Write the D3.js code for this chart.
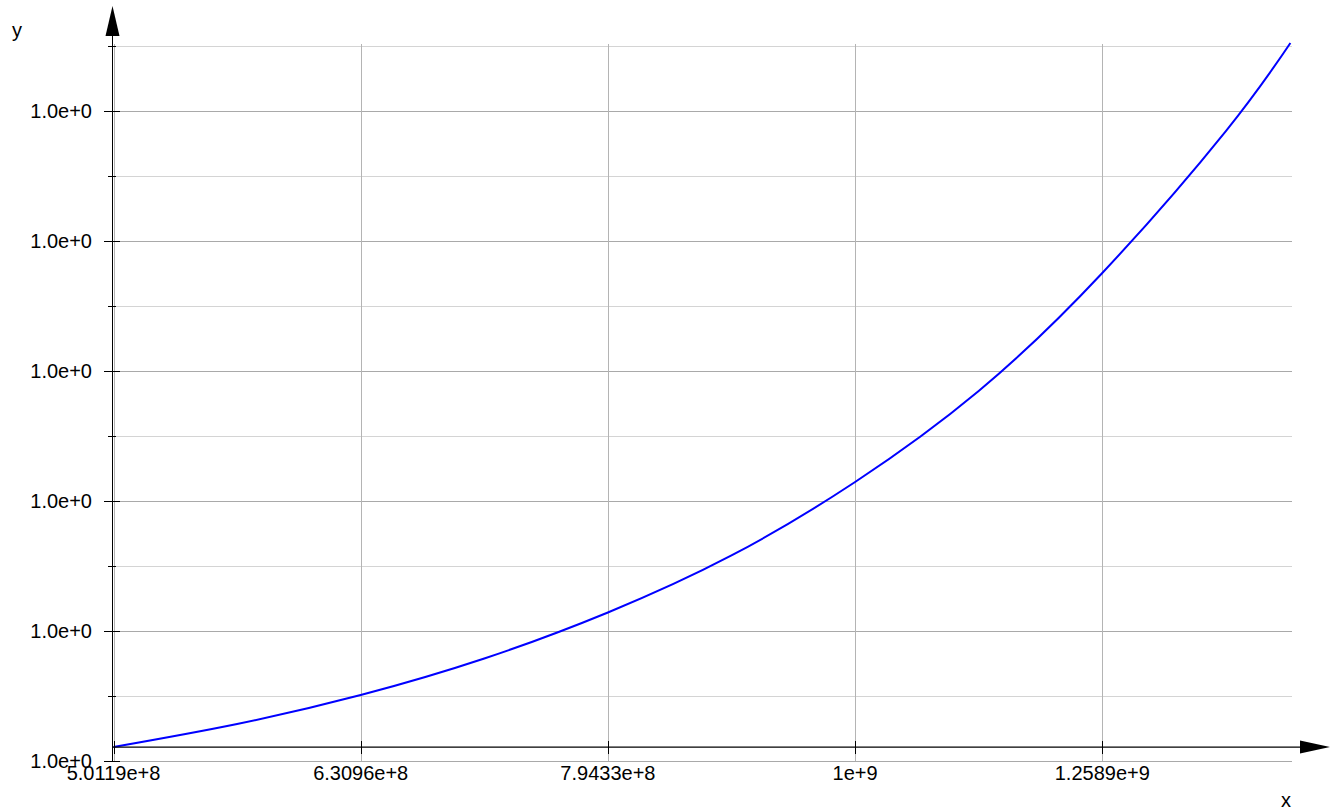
<!DOCTYPE html>
<html>
<head>
<meta charset="utf-8">
<script src="https://cdn.jsdelivr.net/npm/d3@7"></script>
<style>
  html, body { margin: 0; padding: 0; background: #ffffff; }
  svg { display: block; font-family: "Liberation Sans", Arial, sans-serif; }
</style>
</head>
<body>
<svg id="chart" width="1340" height="812"></svg>
<script>
// Sampled curve: x on a logarithmic axis, y just above 1
const xValues = [5.0119e8, 5.6234e8, 6.3096e8, 7.0795e8, 7.9433e8, 8.9125e8, 1.0e9, 1.1220e9, 1.2589e9, 1.4125e9, 1.5e9];
const yValues = [1.00000215, 1.00000569, 1.00001015, 1.00001577, 1.00002285, 1.00003162, 1.00004292, 1.00005692, 1.00007508, 1.00009692, 1.00011046];

// Axis ticks
const xTicks = [5.0119e8, 6.3096e8, 7.9433e8, 1.0e9, 1.2589e9];
const xTickLabels = ["5.0119e+8", "6.3096e+8", "7.9433e+8", "1e+9", "1.2589e+9"];
const yMajorTicks = [1.0, 1.00002, 1.00004, 1.00006, 1.00008, 1.0001];
const yMinorTicks = [1.00001, 1.00003, 1.00005, 1.00007, 1.00009, 1.00011];

const svg = d3.select("#chart");

const x = d3.scaleLog().domain([5.0119e8, 1.5e9]).range([113.5, 1290.4]);
const y = d3.scaleLinear().domain([1.0, 1.00011]).range([761, 46]);
const fmtY = d3.format(".1e");

const xAxisY = y(yValues[0]);   // horizontal axis sits at the lowest curve value
const yAxisX = 112;
const gridLeft = 113, gridRight = 1292;

// Grid
const grid = svg.append("g");
grid.selectAll(".minor").data(yMinorTicks).join("line")
  .attr("x1", gridLeft).attr("x2", gridRight)
  .attr("y1", d => Math.round(y(d)) + 0.5).attr("y2", d => Math.round(y(d)) + 0.5)
  .attr("stroke", "#d4d4d4").attr("stroke-width", 1);
grid.selectAll(".major").data(yMajorTicks).join("line")
  .attr("x1", gridLeft).attr("x2", gridRight)
  .attr("y1", d => Math.round(y(d)) + 0.5).attr("y2", d => Math.round(y(d)) + 0.5)
  .attr("stroke", "#a9a9a9").attr("stroke-width", 1);
grid.selectAll(".vgrid").data(xTicks).join("line")
  .attr("x1", d => Math.round(x(d)) + 0.5).attr("x2", d => Math.round(x(d)) + 0.5)
  .attr("y1", 44).attr("y2", 761)
  .attr("stroke", "#b4b4b4").attr("stroke-width", 1);

// Curve
const line = d3.line()
  .x((d, i) => x(xValues[i]))
  .y(d => y(d))
  .curve(d3.curveNatural);
svg.append("path")
  .attr("d", line(yValues))
  .attr("fill", "none")
  .attr("stroke", "#0000ff")
  .attr("stroke-width", 2);

// Axes
const axes = svg.append("g").attr("stroke", "#000");
axes.append("line")
  .attr("x1", yAxisX + 0.5).attr("x2", yAxisX + 0.5)
  .attr("y1", 761).attr("y2", 30).attr("stroke-width", 1);
axes.append("path")
  .attr("d", `M${yAxisX + 0.5},6 L${yAxisX - 6.5},36 L${yAxisX + 7.5},36 Z`)
  .attr("fill", "#000").attr("stroke", "none");
axes.append("line")
  .attr("x1", yAxisX).attr("x2", 1305)
  .attr("y1", xAxisY).attr("y2", xAxisY).attr("stroke-width", 1.3);
axes.append("path")
  .attr("d", `M1330,${xAxisY} L1300,${xAxisY - 6.5} L1300,${xAxisY + 6.5} Z`)
  .attr("fill", "#000").attr("stroke", "none");

// Y ticks
axes.selectAll(".ymaj").data(yMajorTicks).join("line")
  .attr("x1", 104).attr("x2", 120)
  .attr("y1", d => Math.round(y(d)) + 0.5).attr("y2", d => Math.round(y(d)) + 0.5)
  .attr("stroke-width", 1);
axes.selectAll(".ymin").data(yMinorTicks).join("line")
  .attr("x1", 108).attr("x2", 116)
  .attr("y1", d => Math.round(y(d)) + 0.5).attr("y2", d => Math.round(y(d)) + 0.5)
  .attr("stroke-width", 1);

// X ticks
axes.selectAll(".xt").data(xTicks).join("line")
  .attr("x1", d => Math.round(x(d)) + 0.5).attr("x2", d => Math.round(x(d)) + 0.5)
  .attr("y1", xAxisY - 6).attr("y2", xAxisY + 7)
  .attr("stroke-width", 1);

// Labels
const labels = svg.append("g").attr("fill", "#000").attr("font-size", 20);
labels.selectAll(".yl").data(yMajorTicks).join("text")
  .attr("x", 92).attr("y", d => y(d))
  .attr("dy", "0.36em")
  .attr("text-anchor", "end")
  .text(d => fmtY(d));
labels.selectAll(".xl").data(xTicks).join("text")
  .attr("x", d => x(d)).attr("y", 780)
  .attr("text-anchor", "middle")
  .text((d, i) => xTickLabels[i]);
labels.append("text").attr("x", 1286).attr("y", 807).attr("text-anchor", "middle").text("x");
labels.append("text").attr("x", 17).attr("y", 37).attr("text-anchor", "middle").text("y");
</script>
</body>
</html>
